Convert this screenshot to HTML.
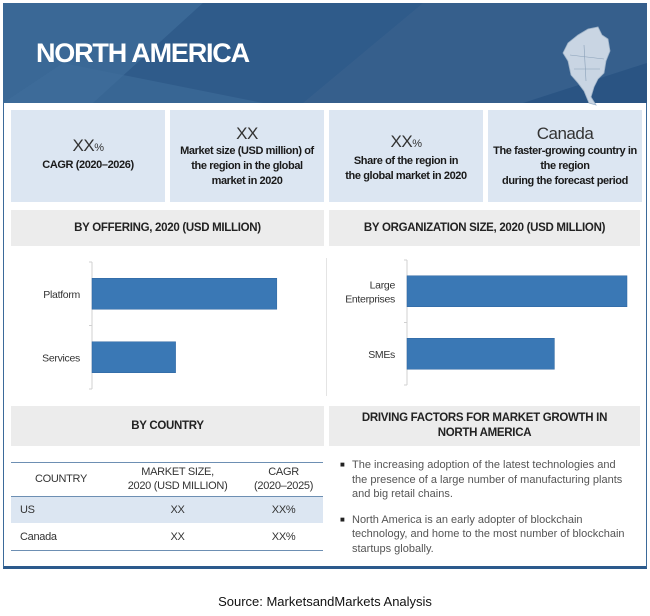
<!DOCTYPE html>
<html><head><meta charset="utf-8">
<style>
*{margin:0;padding:0;box-sizing:border-box}
body{width:650px;height:616px;background:#fff;font-family:"Liberation Sans",sans-serif;color:#222;position:relative;overflow:hidden}
.abs{position:absolute}
.stat{position:absolute;top:110px;height:92px;width:154px;background:#dce6f2;text-align:center;font-size:11px;line-height:15px;color:#1a1a1a;letter-spacing:-0.4px}
.stat .big{font-size:17px;line-height:20px;color:#333;font-weight:normal;letter-spacing:-0.5px}
.sec{position:absolute;background:#ececec;text-align:center;font-weight:bold;font-size:11.5px;color:#222;letter-spacing:-0.3px}
td{font-size:11px;letter-spacing:-0.3px}
</style></head><body>
<div class="abs" style="left:3px;top:3px;width:644px;height:566px;border:1px solid #3b6a9a;border-bottom:3px solid #2c5a8c"></div>
<svg class="abs" style="left:3px;top:3px" width="644" height="100">
<rect width="644" height="100" fill="#33608f"/>
<polygon points="0,0 200,0 90,100 0,100" fill="#3a6896"/>
<polygon points="200,0 420,0 300,100 90,100" fill="#2f5b8a"/>
<polygon points="420,0 644,0 644,60 520,100 300,100" fill="#365f8c"/>
<polygon points="520,100 644,60 644,100" fill="#2a5483"/>
<polygon points="60,60 260,100 0,100" fill="#406e9b" opacity=".6"/>
</svg>
<div class="abs" style="left:36px;top:38px;font-size:27px;font-weight:bold;color:#fff;letter-spacing:-1.2px">NORTH AMERICA</div>
<svg class="abs" style="left:558px;top:25px" width="60" height="85">
<path d="M20,10 L30,4 L40,2 L44,10 L50,14 L52,26 L48,36 L46,48 L40,54 L36,62 L33,72 L38,80 L31,78 L26,66 L20,58 L13,50 L10,36 L5,28 L10,18 Z" fill="#c9d5e3" stroke="#9fb3c8" stroke-width=".8"/>
<path d="M12,30 L46,34 M16,44 L42,44 M26,20 L28,56" stroke="#8aa0b8" stroke-width=".6" fill="none"/>
</svg>
<div class="stat" style="left:11px;padding-top:26px"><div class="big">XX<span style="font-size:11px">%</span></div><b>CAGR (2020–2026)</b></div>
<div class="stat" style="left:170px;padding-top:14px;padding-left:6px;padding-right:6px"><div class="big">XX</div><b>Market size (USD million) of the region in the global market in 2020</b></div>
<div class="stat" style="left:329px;padding-top:22px"><div class="big">XX<span style="font-size:11px">%</span></div><b>Share of the region in<br>the global market in 2020</b></div>
<div class="stat" style="left:488px;padding-top:14px"><div class="big">Canada</div><b>The faster-growing country in<br>the region<br>during the forecast period</b></div>
<div class="sec" style="left:11px;top:210px;width:313px;height:36px;line-height:36px">BY OFFERING, 2020 (USD MILLION)</div>
<div class="sec" style="left:329px;top:210px;width:311px;height:36px;line-height:36px">BY ORGANIZATION SIZE, 2020 (USD MILLION)</div>
<div class="abs" style="left:326px;top:258px;width:1px;height:138px;background:#e4e4e4"></div>
<svg class="abs" id="charts" style="left:0;top:0" width="650" height="616"></svg>
<div class="sec" style="left:11px;top:406px;width:313px;height:40px;line-height:40px">BY COUNTRY</div>
<div class="sec" style="left:329px;top:406px;width:311px;height:40px;padding-top:5px;line-height:15px">DRIVING FACTORS FOR MARKET GROWTH IN<br>NORTH AMERICA</div>
<div class="abs" style="left:11px;top:462px;width:312px;border-top:1.5px solid #6d8fb3;border-bottom:1.5px solid #6d8fb3">
<table style="width:100%;border-collapse:collapse;color:#333">
<tr style="height:33px;text-align:center"><td style="width:100px">COUNTRY</td><td style="line-height:14px">MARKET SIZE,<br>2020 (USD MILLION)</td><td style="line-height:14px">CAGR<br>(2020–2025)</td></tr>
<tr style="height:27px;background:#dce6f2;border-top:1px solid #6d8fb3"><td style="padding-left:9px">US</td><td style="text-align:center">XX</td><td style="text-align:center">XX%</td></tr>
<tr style="height:27px"><td style="padding-left:9px">Canada</td><td style="text-align:center">XX</td><td style="text-align:center">XX%</td></tr>
</table></div>
<div class="abs" style="left:340px;top:458px;width:292px;font-family:'Liberation Sans',sans-serif;font-size:11px;line-height:14.5px;color:#555">
<div style="display:flex;margin-bottom:11px"><span style="width:12px;font-size:8px;color:#222">■</span><span style="flex:1">The increasing adoption of the latest technologies and the presence of a large number of manufacturing plants and big retail chains.</span></div>
<div style="display:flex"><span style="width:12px;font-size:8px;color:#222">■</span><span style="flex:1">North America is an early adopter of blockchain technology, and home to the most number of blockchain startups globally.</span></div>
</div>
<div class="abs" style="left:0;width:650px;top:594px;text-align:center;font-family:'Liberation Sans',sans-serif;font-size:13px;color:#111">Source: MarketsandMarkets Analysis</div>
<script>
const offeringCats=["Platform","Services"];
const offeringVals=[84,38];
const orgCats=["Large|Enterprises","SMEs"];
const orgVals=[100,67];
const NS="http://www.w3.org/2000/svg";
const svg=document.getElementById('charts');
function mk(t,a){const e=document.createElementNS(NS,t);for(const k in a)e.setAttribute(k,a[k]);svg.appendChild(e);return e;}
function chart(x0,width,yTop,yBot,cats,vals,prefix){
  const xs=v=>x0+v/100*width;
  const band=(yBot-yTop)/cats.length;
  const ax=mk('line',{x1:x0,x2:x0,y1:yTop,y2:yBot,stroke:'#d0d0d0'});
  
  
  for(let i=0;i<=cats.length;i++){mk('line',{x1:x0-3,x2:x0,y1:yTop+i*band,y2:yTop+i*band,stroke:'#d0d0d0'});}
  cats.forEach((c,i)=>{
    const yc=yTop+band*(i+0.5);
    const r=mk('rect',{x:x0,y:yc-15.5,width:xs(vals[i])-x0,height:31,fill:'#3a78b5',stroke:'#2d65a0','stroke-width':.5});
    
    
    const lines=c.split('|');
    lines.forEach((l,j)=>{
      const t=mk('text',{x:x0-12,y:yc+4+(j-(lines.length-1)/2)*14,'text-anchor':'end','font-size':'10.5','letter-spacing':'-0.3','font-family':'Liberation Sans, sans-serif',fill:'#333'});
      t.textContent=l;
      
      
    });
  });
}
chart(92,220,262,389,offeringCats,offeringVals,'offering');
chart(407,220,260,385,orgCats,orgVals,'org-size');
</script>
</body></html>
